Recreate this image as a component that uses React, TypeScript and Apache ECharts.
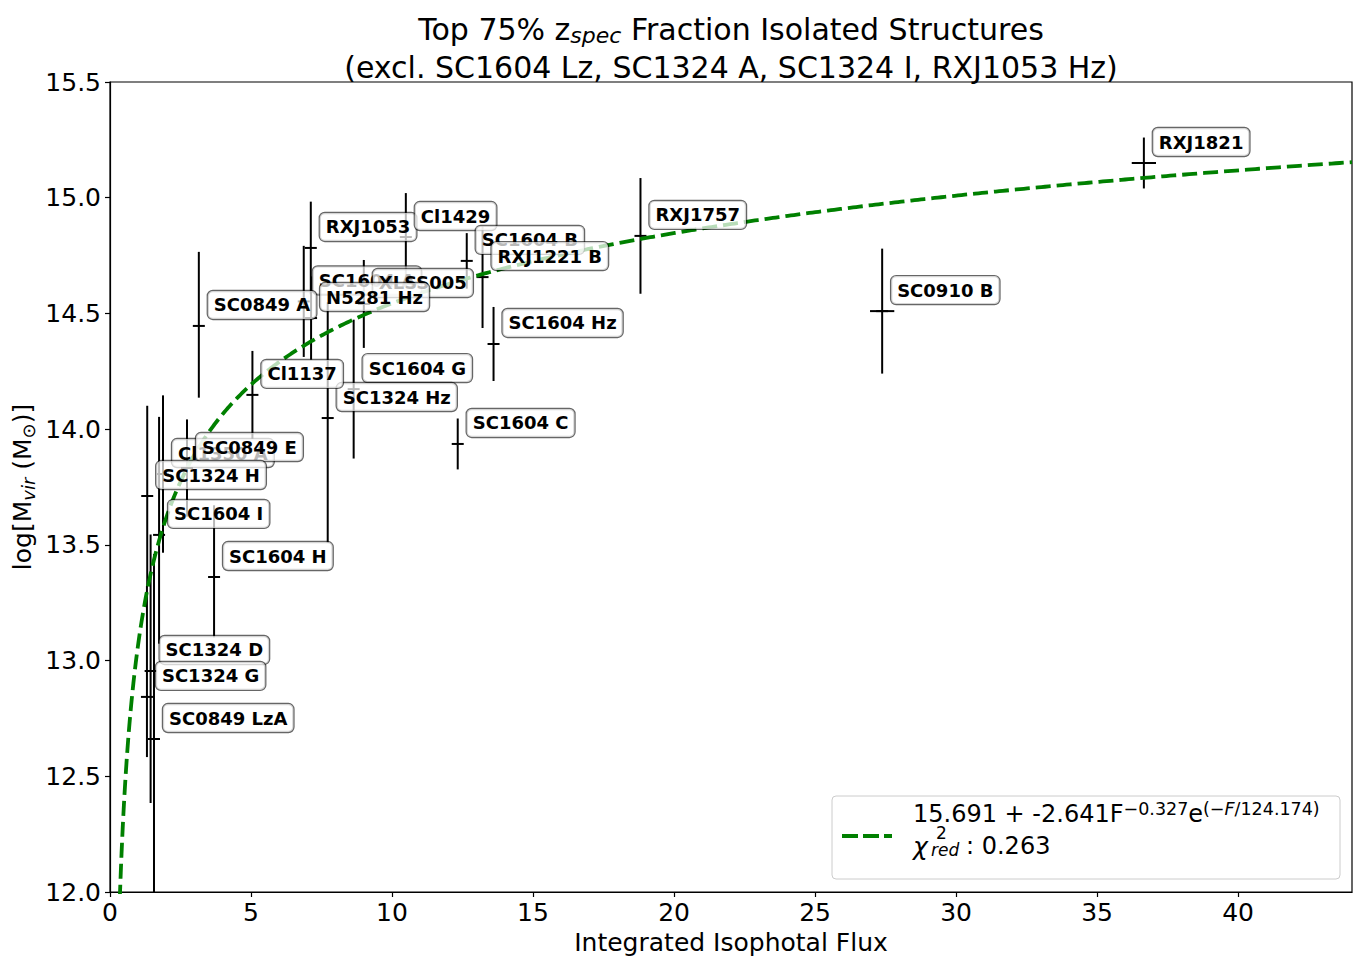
import React, { useEffect, useRef } from "react";
import * as echarts from "echarts";

// ---- data ----
const clusterNames = [
  "RXJ1821", "RXJ1757", "SC0910 B", "SC1604 A", "XLSS005", "RXJ1053", "Cl1429",
  "N5281 Hz", "SC0849 A", "SC1604 B", "RXJ1221 B", "SC1604 Hz", "SC1604 G",
  "SC1324 Hz", "Cl1137", "SC1604 C", "Cl1350 A", "SC0849 E", "SC1324 H",
  "SC1604 I", "SC1604 H", "SC1324 D", "SC1324 G", "SC0849 LzA",
];
const isophotalFlux = [
  36.66, 18.81, 27.38, 6.87, 9.0, 7.12, 10.49,
  7.13, 3.15, 12.65, 13.21, 13.6, 8.64,
  7.72, 5.05, 12.33, 1.88, 2.73, 1.32,
  1.74, 3.69, 1.44, 1.31, 1.56,
];
const logMvir = [
  15.15, 14.835, 14.51, 14.552, 14.541, 14.783, 14.83,
  14.48, 14.446, 14.727, 14.657, 14.368, 14.173,
  14.048, 14.148, 13.936, 13.806, 13.832, 13.711,
  13.543, 13.361, 12.955, 12.843, 12.661,
];
const logMvirErrLow = [
  0.11, 0.25, 0.27, 0.24, 0.19, 0.2, 0.19,
  0.18, 0.31, 0.12, 0.22, 0.16, 0.3,
  0.54, 0.19, 0.11, 0.34, 0.21, 0.39,
  0.47, 0.26, 0.57, 0.26, 0.8,
];
const logMvirErrHigh = [
  0.11, 0.25, 0.27, 0.24, 0.19, 0.2, 0.19,
  0.18, 0.32, 0.12, 0.22, 0.16, 0.3,
  0.5, 0.19, 0.11, 0.34, 0.21, 0.39,
  0.51, 0.31, 0.59, 0.48, 0.8,
];
const fluxErr = [
  0.43, 0, 0.43, 0, 0, 0, 0,
  0, 0, 0, 0, 0, 0,
  0, 0, 0, 0, 0, 0,
  0, 0, 0, 0, 0,
];

// fit parameters as printed in the legend: c + a * F^p * exp(-F / s)
const fitConst = 15.691;
const fitAmp = -2.641;
const fitPow = -0.327;
const fitScale = 124.174;
const fitChi2 = 0.263;

const xMin = 0;
const xMax = 44.04;
const yMin = 12.0;
const yMax = 15.5;

const FONT = "DejaVu Sans";

export default function App() {
  const ref = useRef<HTMLDivElement>(null);

  useEffect(() => {
    document.body.style.margin = "0";
    if (!ref.current) return;
    const chart = echarts.init(ref.current, undefined, { renderer: "svg" });

    const fitData: number[][] = [];
    const n = 600;
    for (let i = 0; i <= n; i++) {
      const F = 0.3 + (xMax - 0.3) * Math.pow(i / n, 2);
      fitData.push([F, fitConst + fitAmp * Math.pow(F, fitPow) * Math.exp(-F / fitScale)]);
    }

    const barData = clusterNames.map((_, i) => [
      isophotalFlux[i], logMvir[i], logMvirErrLow[i], logMvirErrHigh[i], fluxErr[i],
    ]);
    const labelData = clusterNames.map((_, i) => [isophotalFlux[i], logMvir[i]]);

    const axisCommon = {
      axisLine: { show: true, lineStyle: { color: "#000", width: 1.2 } },
      axisTick: { show: true, inside: false, length: 5, lineStyle: { color: "#000", width: 1.2 } },
      splitLine: { show: false },
    };

    const option: any = {
      animation: false,
      grid: {
        left: 110, right: 14, top: 82, bottom: 73,
        show: true, borderColor: "#000", borderWidth: 1.2, backgroundColor: "transparent",
      },
      xAxis: {
        type: "value", min: xMin, max: xMax, interval: 5,
        ...axisCommon,
        axisLabel: {
          fontSize: 25, color: "#000", fontFamily: FONT, margin: 8, showMaxLabel: false,
          formatter: (v: number) => (Math.abs(v % 5) < 1e-6 ? String(v) : ""),
        },
        name: "Integrated Isophotal Flux",
        nameLocation: "middle",
        nameGap: 36,
        nameTextStyle: { fontSize: 25, color: "#000", fontFamily: FONT },
      },
      yAxis: {
        type: "value", min: yMin, max: yMax, interval: 0.5,
        ...axisCommon,
        axisLabel: {
          fontSize: 25, color: "#000", fontFamily: FONT, margin: 9,
          formatter: (v: number) => v.toFixed(1),
        },
      },
      series: [
        {
          type: "custom",
          data: barData,
          z: 3,
          clip: true,
          renderItem: (params: any, api: any) => {
            const x = api.value(0), y = api.value(1);
            const lo = api.value(2), hi = api.value(3), xe = api.value(4);
            const c = api.coord([x, y]);
            const top = api.coord([x, Math.min(y + hi, yMax)]);
            const bot = api.coord([x, Math.max(y - lo, yMin)]);
            const st = { stroke: "#000", lineWidth: 2 };
            const children: any[] = [
              { type: "line", shape: { x1: c[0], y1: top[1], x2: c[0], y2: bot[1] }, style: st },
              { type: "line", shape: { x1: c[0] - 6, y1: c[1], x2: c[0] + 6, y2: c[1] }, style: st },
            ];
            if (xe > 0) {
              const l = api.coord([x - xe, y]);
              const r = api.coord([x + xe, y]);
              children.push({ type: "line", shape: { x1: l[0], y1: c[1], x2: r[0], y2: c[1] }, style: st });
            }
            return { type: "group", children };
          },
        },
        {
          type: "line",
          data: fitData,
          showSymbol: false,
          symbol: "none",
          clip: true,
          z: 4,
          lineStyle: { color: "#008000", width: 3.8, type: [15, 6], cap: "butt" },
        },
        {
          type: "custom",
          data: labelData,
          z: 10,
          clip: false,
          renderItem: (params: any, api: any) => {
            const c = api.coord([api.value(0), api.value(1)]);
            return {
              type: "text",
              x: c[0] + 9,
              y: c[1] - 21,
              style: {
                text: clusterNames[params.dataIndex],
                fill: "#000",
                fontFamily: FONT,
                fontWeight: "bold",
                fontSize: 18,
                align: "left",
                verticalAlign: "middle",
                lineHeight: 20,
                backgroundColor: "rgba(255,255,255,0.72)",
                borderColor: "rgba(0,0,0,0.6)",
                borderWidth: 1.2,
                borderRadius: 5,
                padding: [4, 6, 4, 6],
              },
            };
          },
        },
      ],
      graphic: [
        {
          type: "text", x: 731, y: 29, z: 20,
          style: {
            text: "{a|Top 75% z}{s|spec}{a| Fraction Isolated Structures}",
            align: "center", verticalAlign: "middle", lineHeight: 36, fill: "#000",
            rich: {
              a: { fontSize: 30, fontFamily: FONT, fill: "#000" },
              s: { fontSize: 22, fontFamily: FONT, fontStyle: "italic", fill: "#000", verticalAlign: "bottom", height: 24 },
            },
          },
        },
        {
          type: "text", x: 731, y: 67, z: 20,
          style: {
            text: "(excl. SC1604 Lz, SC1324 A, SC1324 I, RXJ1053 Hz)",
            align: "center", verticalAlign: "middle", fill: "#000",
            fontSize: 30, fontFamily: FONT,
          },
        },
        {
          type: "text", x: 22, y: 487, rotation: Math.PI / 2, z: 20,
          style: {
            text: "{a|log[M}{s|vir}{a| (M}{o|⊙}{a|)]}",
            align: "center", verticalAlign: "middle", lineHeight: 32, fill: "#000",
            rich: {
              a: { fontSize: 25, fontFamily: FONT, fill: "#000" },
              s: { fontSize: 18, fontFamily: FONT, fontStyle: "italic", fill: "#000", verticalAlign: "bottom", height: 20 },
              o: { fontSize: 18, fontFamily: FONT, fill: "#000", verticalAlign: "bottom", height: 20 },
            },
          },
        },
        {
          type: "rect", z: 20,
          shape: { x: 832, y: 796, width: 508, height: 83, r: 4 },
          style: { fill: "rgba(255,255,255,0.8)", stroke: "#cccccc", lineWidth: 1 },
        },
        {
          type: "line", z: 21,
          shape: { x1: 842, y1: 836, x2: 892, y2: 836 },
          style: { stroke: "#008000", lineWidth: 3.8, lineDash: [16, 5] },
        },
        {
          type: "text", x: 913, y: 813.5, z: 21,
          style: {
            text: "{a|15.691 + -2.641F}{p|−0.327}{a|e}{p|(−}{q|F}{p|/124.174)}",
            align: "left", verticalAlign: "middle", lineHeight: 30, fill: "#000",
            rich: {
              a: { fontSize: 24, fontFamily: FONT, fill: "#000" },
              p: { fontSize: 17.5, fontFamily: FONT, fill: "#000", verticalAlign: "top", height: 21 },
              q: { fontSize: 17.5, fontFamily: FONT, fontStyle: "italic", fill: "#000", verticalAlign: "top", height: 21 },
            },
          },
        },
        {
          type: "text", x: 913, y: 846, z: 21,
          style: { text: "χ", fontSize: 25, fontFamily: FONT, fontStyle: "italic", fill: "#000", align: "left", verticalAlign: "middle" },
        },
        {
          type: "text", x: 936, y: 832.5, z: 21,
          style: { text: "2", fontSize: 17, fontFamily: FONT, fill: "#000", align: "left", verticalAlign: "middle" },
        },
        {
          type: "text", x: 931, y: 850, z: 21,
          style: { text: "red", fontSize: 17, fontFamily: FONT, fontStyle: "italic", fill: "#000", align: "left", verticalAlign: "middle" },
        },
        {
          type: "text", x: 966, y: 846, z: 21,
          style: { text: ": " + fitChi2.toFixed(3), fontSize: 24, fontFamily: FONT, fill: "#000", align: "left", verticalAlign: "middle" },
        },
      ],
    };

    chart.setOption(option);
    return () => chart.dispose();
  }, []);

  return <div ref={ref} style={{ width: 1366, height: 965 }} />;
}
